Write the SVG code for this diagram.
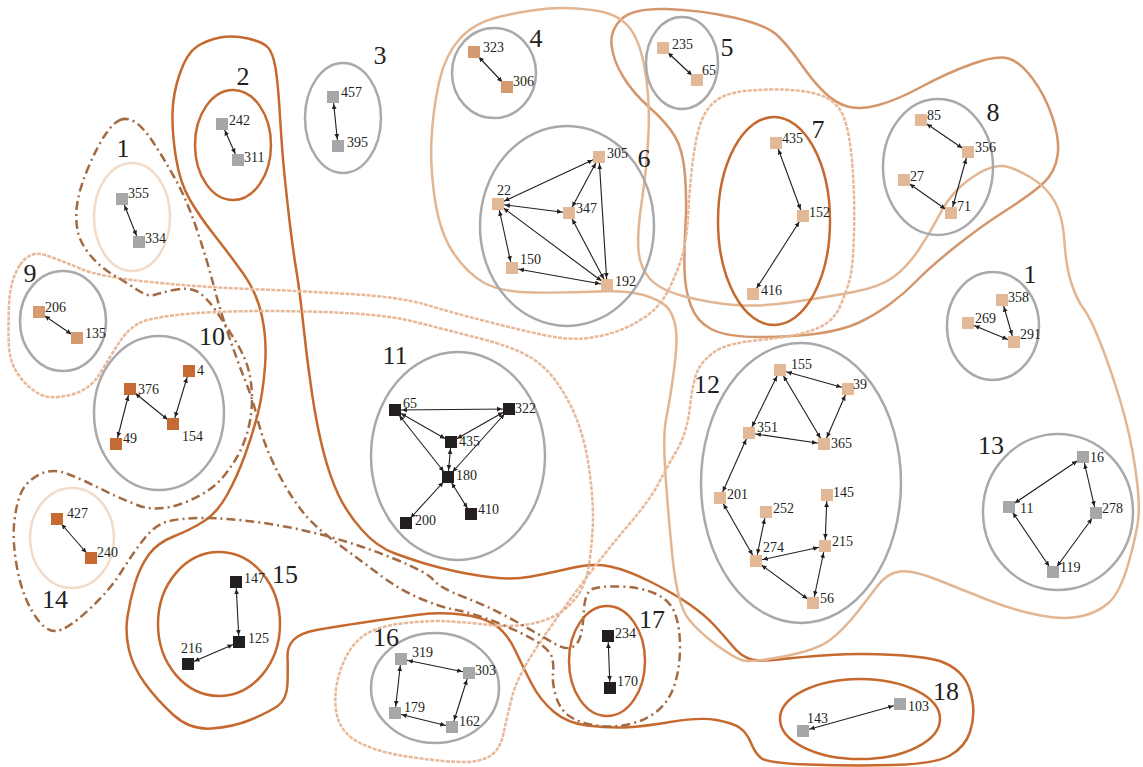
<svg xmlns="http://www.w3.org/2000/svg" width="1143" height="767" viewBox="0 0 1143 767">
<style>
.hull{fill:none;stroke-width:2.5;stroke-linejoin:round}
.hA{stroke:#c5692f}
.hB{stroke:#d4966b}
.hC{stroke:#e3b693}
.hD{stroke:#e8b999;stroke-dasharray:4 1.3}
.hE{stroke:#a36b43;stroke-dasharray:9 4 2 4}
.cg{fill:none;stroke:#a9a9ab;stroke-width:2.5}
.co{fill:none;stroke:#c5692f;stroke-width:2.5}
.cv{fill:none;stroke:#f1dccb;stroke-width:2.5}
.e{stroke:#231f20;stroke-width:1.1;fill:none;marker-start:url(#ar);marker-end:url(#ar)}
.g{fill:#a6a7a9}.p{fill:#e3b896}.m{fill:#d69a70}.o{fill:#c66a34}.k{fill:#231f20}
text{font-family:"Liberation Serif","DejaVu Serif",serif;fill:#231f20}
.lb{font-size:14px}
.cl{font-size:26px;text-anchor:middle}
</style>
<defs>
<marker id="ar" viewBox="0 0 10 6" markerWidth="10" markerHeight="6" markerUnits="userSpaceOnUse" refX="12" refY="3" orient="auto-start-reverse">
<path d="M0,0.6 L5,3 L0,5.4 z" fill="#231f20"/>
</marker>
</defs>
<rect width="1143" height="767" fill="#ffffff"/>
<g id="hulls">
<path class="hull hA" d="M 220,37.5 Q 233,35 248,38.5 Q 263,42 268,47.5 Q 273,53 275.5,68 Q 278,83 280,116.5 Q 282,150 284.5,175 Q 287,200 290,225 Q 293,250 296.5,271.5 Q 300,293 303.5,326.5 Q 307,360 312,393.5 Q 317,427 323.5,452 Q 330,477 338.5,495 Q 347,513 362,530 Q 377,547 395,553.5 Q 413,560 426.5,564 Q 440,568 456.5,571.5 Q 473,575 493,577.5 Q 513,580 531.5,576.5 Q 550,573 571.5,568 Q 593,563 610,566.5 Q 627,570 650,581.5 Q 673,593 689,604 Q 705,615 715,626 Q 725,637 732.5,646 Q 740,655 748.5,658.5 Q 757,662 778.5,659.5 Q 800,657 830,655 Q 860,653 895,655 Q 930,657 942.5,662 Q 955,667 962.5,676 Q 970,685 972.5,701 Q 975,717 970,732 Q 965,747 950,755.5 Q 935,764 892.5,765 Q 850,766 808.5,764.5 Q 767,763 761,758 Q 755,753 751,743 Q 747,733 740,728 Q 733,723 716.5,720 Q 700,717 670,722 Q 640,727 623.5,727.5 Q 607,728 587,725.5 Q 567,723 553.5,711.5 Q 540,700 531.5,683.5 Q 523,667 515,650 Q 507,633 495,625 Q 483,617 461.5,614.5 Q 440,612 420,614.5 Q 400,617 366.5,622 Q 333,627 316.5,630 Q 300,633 293.5,640 Q 287,647 287.5,657 Q 288,667 287.5,683.5 Q 287,700 277,706.5 Q 267,713 250,720 Q 233,727 211.5,728.5 Q 190,730 173.5,715 Q 157,700 145,683.5 Q 133,667 129,650 Q 125,633 127.5,616.5 Q 130,600 135,583.5 Q 140,567 148.5,555 Q 157,543 173.5,536.5 Q 190,530 203.5,521.5 Q 217,513 227,495 Q 237,477 245,455 Q 253,433 258,413 Q 263,393 265,366.5 Q 267,340 262,316.5 Q 257,293 243.5,274 Q 230,255 215,236 Q 200,217 190,200 Q 180,183 176,158 Q 172,133 172.5,113 Q 173,93 180,73 Q 187,53 197,46.5 Q 207,40 220,37.5 Z"/>
<path class="hull hB" d="M 621.5,19 Q 633,8 666.5,9 Q 700,10 733.5,17.5 Q 767,25 778.5,36.5 Q 790,48 801,64 Q 812,80 823.5,91.5 Q 835,103 847.5,106.5 Q 860,110 878.5,105 Q 897,100 922,86.5 Q 947,73 972,64 Q 997,55 1008.5,58.5 Q 1020,62 1032.5,78.5 Q 1045,95 1052.5,117.5 Q 1060,140 1057.5,156 Q 1055,172 1044,182.5 Q 1033,193 1006.5,210 Q 980,227 955,247 Q 930,267 917.5,280 Q 905,293 890,304 Q 875,315 859,322.5 Q 843,330 818,333.5 Q 793,337 760,337 Q 727,337 712,329.5 Q 697,322 691,306 Q 685,290 684.5,270 Q 684,250 685.5,225 Q 687,200 685,175 Q 683,150 675,136.5 Q 667,123 650,108 Q 633,93 623,76.5 Q 613,60 611.5,45 Q 610,30 621.5,19 Z"/>
<path class="hull hC" d="M 502.5,16 Q 530,10 548.5,8.5 Q 567,7 592,10 Q 617,13 628.5,26.5 Q 640,40 645,70 Q 650,100 648.5,133.5 Q 647,167 642,200 Q 637,233 638.5,250.5 Q 640,268 650,279 Q 660,290 685,296.5 Q 710,303 735,305 Q 760,307 793.5,302 Q 827,297 853.5,292 Q 880,287 893.5,277 Q 907,267 918.5,250 Q 930,233 938.5,216.5 Q 947,200 957,190 Q 967,180 980,172.5 Q 993,165 1003,166 Q 1013,167 1030,177 Q 1047,187 1055,202 Q 1063,217 1064.5,242 Q 1066,267 1071.5,283.5 Q 1077,300 1083.5,308.5 Q 1090,317 1100,342 Q 1110,367 1120,400 Q 1130,433 1135,466.5 Q 1140,500 1138.5,516.5 Q 1137,533 1128.5,563 Q 1120,593 1108.5,603 Q 1097,613 1080,616.5 Q 1063,620 1038,615 Q 1013,610 988,600 Q 963,590 938,580 Q 913,570 900,571.5 Q 887,573 877,586.5 Q 867,600 855,615 Q 843,630 830,640 Q 817,650 783.5,656.5 Q 750,663 741.5,660 Q 733,657 716.5,645 Q 700,633 688.5,619 Q 677,605 672,552.5 Q 667,500 665,466.5 Q 663,433 666.5,416.5 Q 670,400 674,370 Q 678,340 675.5,326.5 Q 673,313 666.5,306.5 Q 660,300 643.5,295 Q 627,290 597,291.5 Q 567,293 533.5,292.5 Q 500,292 483.5,282.5 Q 467,273 453.5,253 Q 440,233 435,200 Q 430,167 431.5,138.5 Q 433,110 439,82.5 Q 445,55 460,38.5 Q 475,22 502.5,16 Z"/>
<path class="hull hD" d="M 20,265 Q 30,250 45,255 Q 60,260 80,268.5 Q 100,277 150,282 Q 200,287 250,289 Q 300,291 350,294 Q 400,297 425,304.5 Q 450,312 485,321 Q 520,330 543.5,335 Q 567,340 583.5,338.5 Q 600,337 615,332 Q 630,327 645,317 Q 660,307 668.5,290 Q 677,273 682,256.5 Q 687,240 688.5,210 Q 690,180 694,152.5 Q 698,125 705.5,112.5 Q 713,100 726.5,95 Q 740,90 770,89.5 Q 800,89 818.5,94.5 Q 837,100 843.5,116.5 Q 850,133 852.5,166.5 Q 855,200 854,233.5 Q 853,267 850,278.5 Q 847,290 840,306.5 Q 833,323 813,330 Q 793,337 760,340 Q 727,343 715,351.5 Q 703,360 698,370 Q 693,380 690,406.5 Q 687,433 677,450 Q 667,467 658.5,483.5 Q 650,500 628.5,525 Q 607,550 582,583.5 Q 557,617 537,647 Q 517,677 512,697 Q 507,717 503.5,733.5 Q 500,750 490,756 Q 480,762 463.5,762 Q 447,762 413.5,757.5 Q 380,753 360,743 Q 340,733 336.5,713 Q 333,693 340,671.5 Q 347,650 360,638.5 Q 373,627 401.5,623.5 Q 430,620 451.5,621.5 Q 473,623 490,625 Q 507,627 523.5,625 Q 540,623 553.5,616.5 Q 567,610 577,596.5 Q 587,583 590,558 Q 593,533 593,516.5 Q 593,500 590,475 Q 587,450 580,428.5 Q 573,407 560,387 Q 547,367 530,357 Q 513,347 480,338.5 Q 447,330 413.5,321.5 Q 380,313 306.5,311.5 Q 233,310 191.5,313.5 Q 150,317 138.5,323.5 Q 127,330 118.5,343.5 Q 110,357 100,373.5 Q 90,390 70,395 Q 50,400 38.5,393.5 Q 27,387 18.5,375 Q 10,363 9,346.5 Q 8,330 9,305 Q 10,280 20,265 Z"/>
<path class="hull hE" d="M 120,120 Q 127,117 135,122 Q 143,127 153,142 Q 163,157 175,178.5 Q 187,200 197,230 Q 207,260 213.5,285 Q 220,310 228.5,335 Q 237,360 245,380 Q 253,400 256.5,415 Q 260,430 266,446 Q 272,462 282.5,481 Q 293,500 304,513.5 Q 315,527 337.5,543.5 Q 360,560 380,575 Q 400,590 420,598.5 Q 440,607 456.5,610 Q 473,613 498,623 Q 523,633 536.5,641.5 Q 550,650 552,657.5 Q 554,665 553,674 Q 552,683 556,696.5 Q 560,710 570,716.5 Q 580,723 596.5,725.5 Q 613,728 630,724 Q 647,720 658.5,710 Q 670,700 675,683.5 Q 680,667 680,647 Q 680,627 675,613.5 Q 670,600 655,593.5 Q 640,587 620,586.5 Q 600,586 592.5,589 Q 585,592 584,609.5 Q 583,627 580.5,636 Q 578,645 571.5,647.5 Q 565,650 552.5,642.5 Q 540,635 515,621 Q 490,607 465,597.5 Q 440,588 433.5,580 Q 427,572 393.5,558.5 Q 360,545 326.5,536 Q 293,527 260,522.5 Q 227,518 203.5,518 Q 180,518 167.5,521.5 Q 155,525 144,539 Q 133,553 121.5,571.5 Q 110,590 88.5,610 Q 67,630 56,631 Q 45,632 33.5,613.5 Q 22,595 17,567.5 Q 12,540 14.5,520 Q 17,500 22.5,490 Q 28,480 40.5,474 Q 53,468 68,474 Q 83,480 100,488.5 Q 117,497 137,505 Q 157,513 183.5,503 Q 210,493 223.5,476.5 Q 237,460 243.5,443.5 Q 250,427 251.5,410 Q 253,393 250,376.5 Q 247,360 237,343.5 Q 227,327 216,311 Q 205,295 196,291 Q 187,287 173.5,290 Q 160,293 154,295 Q 148,297 137.5,290 Q 127,283 113.5,275 Q 100,267 90,255 Q 80,243 77.5,230 Q 75,217 77.5,202 Q 80,187 88.5,167 Q 97,147 105,135 Q 113,123 120,120 Z"/>
</g>
<g id="clusters">
<g id="cluster-1a"><ellipse class="cv" cx="132" cy="217" rx="38" ry="54"/><text class="cl" x="123" y="157">1</text></g>
<g id="cluster-2"><ellipse class="co" cx="233" cy="145" rx="38" ry="55"/><text class="cl" x="243" y="85">2</text></g>
<g id="cluster-3"><ellipse class="cg" cx="343" cy="118" rx="38" ry="55"/><text class="cl" x="380" y="64">3</text></g>
<g id="cluster-4"><ellipse class="cg" cx="494" cy="73" rx="42" ry="45"/><text class="cl" x="536" y="47">4</text></g>
<g id="cluster-5"><ellipse class="cg" cx="682" cy="63" rx="36" ry="46"/><text class="cl" x="727" y="56">5</text></g>
<g id="cluster-6"><ellipse class="cg" cx="567" cy="226" rx="87" ry="100"/><text class="cl" x="644" y="167">6</text></g>
<g id="cluster-7"><ellipse class="co" cx="774" cy="221" rx="56" ry="104"/><text class="cl" x="818" y="138">7</text></g>
<g id="cluster-8"><ellipse class="cg" cx="938" cy="167" rx="55" ry="68"/><text class="cl" x="993" y="121">8</text></g>
<g id="cluster-1b"><ellipse class="cg" cx="993" cy="326" rx="46" ry="54"/><text class="cl" x="1030" y="283">1</text></g>
<g id="cluster-9"><ellipse class="cg" cx="63" cy="321" rx="43" ry="50"/><text class="cl" x="30" y="282">9</text></g>
<g id="cluster-10"><ellipse class="cg" cx="159" cy="413" rx="65" ry="77"/><text class="cl" x="212" y="345">10</text></g>
<g id="cluster-11"><ellipse class="cg" cx="458" cy="456" rx="87" ry="104"/><text class="cl" x="395" y="364">11</text></g>
<g id="cluster-12"><ellipse class="cg" cx="801" cy="483" rx="100" ry="140"/><text class="cl" x="707" y="393">12</text></g>
<g id="cluster-13"><ellipse class="cg" cx="1058" cy="512" rx="75" ry="78"/><text class="cl" x="991" y="454">13</text></g>
<g id="cluster-14"><ellipse class="cv" cx="72" cy="538" rx="42" ry="50"/><text class="cl" x="55" y="608">14</text></g>
<g id="cluster-15"><ellipse class="co" cx="219" cy="624" rx="61" ry="72"/><text class="cl" x="285" y="583">15</text></g>
<g id="cluster-16"><ellipse class="cg" cx="435" cy="688" rx="64" ry="55"/><text class="cl" x="386" y="646">16</text></g>
<g id="cluster-17"><ellipse class="co" cx="607" cy="661" rx="38" ry="55"/><text class="cl" x="652" y="628">17</text></g>
<g id="cluster-18"><ellipse class="co" cx="860" cy="719" rx="80" ry="40"/><text class="cl" x="946" y="700">18</text></g>
</g>
<g id="connectors">
<line class="e" x1="122" y1="199" x2="139" y2="242"/>
<line class="e" x1="222" y1="124" x2="238" y2="160"/>
<line class="e" x1="333" y1="97" x2="338" y2="146"/>
<line class="e" x1="474" y1="52" x2="507" y2="87"/>
<line class="e" x1="663" y1="48" x2="697" y2="80"/>
<line class="e" x1="498" y1="204" x2="599" y2="157"/>
<line class="e" x1="498" y1="204" x2="569" y2="213"/>
<line class="e" x1="498" y1="204" x2="512" y2="268"/>
<line class="e" x1="498" y1="204" x2="607" y2="285"/>
<line class="e" x1="569" y1="213" x2="599" y2="157"/>
<line class="e" x1="569" y1="213" x2="607" y2="285"/>
<line class="e" x1="599" y1="157" x2="607" y2="285"/>
<line class="e" x1="512" y1="268" x2="607" y2="285"/>
<line class="e" x1="776" y1="143" x2="803" y2="216"/>
<line class="e" x1="803" y1="216" x2="753" y2="294"/>
<line class="e" x1="921" y1="120" x2="968" y2="152"/>
<line class="e" x1="968" y1="152" x2="951" y2="213"/>
<line class="e" x1="904" y1="180" x2="951" y2="213"/>
<line class="e" x1="1002" y1="300" x2="1014" y2="342"/>
<line class="e" x1="968" y1="323" x2="1014" y2="342"/>
<line class="e" x1="39" y1="312" x2="77" y2="338"/>
<line class="e" x1="130" y1="389" x2="116" y2="444"/>
<line class="e" x1="130" y1="389" x2="173" y2="424"/>
<line class="e" x1="189" y1="371" x2="173" y2="424"/>
<line class="e" x1="395" y1="410" x2="509" y2="409"/>
<line class="e" x1="395" y1="410" x2="451" y2="442"/>
<line class="e" x1="395" y1="410" x2="448" y2="477"/>
<line class="e" x1="509" y1="409" x2="451" y2="442"/>
<line class="e" x1="509" y1="409" x2="448" y2="477"/>
<line class="e" x1="451" y1="442" x2="448" y2="477"/>
<line class="e" x1="448" y1="477" x2="406" y2="523"/>
<line class="e" x1="448" y1="477" x2="471" y2="514"/>
<line class="e" x1="780" y1="370" x2="848" y2="389"/>
<line class="e" x1="780" y1="370" x2="749" y2="433"/>
<line class="e" x1="780" y1="370" x2="824" y2="444"/>
<line class="e" x1="848" y1="389" x2="824" y2="444"/>
<line class="e" x1="749" y1="433" x2="824" y2="444"/>
<line class="e" x1="749" y1="433" x2="720" y2="498"/>
<line class="e" x1="720" y1="498" x2="756" y2="561"/>
<line class="e" x1="766" y1="512" x2="756" y2="561"/>
<line class="e" x1="756" y1="561" x2="825" y2="546"/>
<line class="e" x1="756" y1="561" x2="813" y2="603"/>
<line class="e" x1="827" y1="495" x2="825" y2="546"/>
<line class="e" x1="825" y1="546" x2="813" y2="603"/>
<line class="e" x1="1083" y1="457" x2="1009" y2="507"/>
<line class="e" x1="1083" y1="457" x2="1096" y2="513"/>
<line class="e" x1="1009" y1="507" x2="1053" y2="572"/>
<line class="e" x1="1096" y1="513" x2="1053" y2="572"/>
<line class="e" x1="57" y1="519" x2="91" y2="558"/>
<line class="e" x1="236" y1="582" x2="239" y2="642"/>
<line class="e" x1="239" y1="642" x2="188" y2="664"/>
<line class="e" x1="401" y1="659" x2="469" y2="673"/>
<line class="e" x1="401" y1="659" x2="395" y2="713"/>
<line class="e" x1="395" y1="713" x2="452" y2="727"/>
<line class="e" x1="469" y1="673" x2="452" y2="727"/>
<line class="e" x1="608" y1="636" x2="610" y2="688"/>
<line class="e" x1="803" y1="731" x2="900" y2="704"/>
</g>
<g id="nodes">
<g id="n355"><rect class="g" x="116" y="193" width="12" height="12"/><text class="lb" x="128" y="198">355</text></g>
<g id="n334"><rect class="g" x="133" y="236" width="12" height="12"/><text class="lb" x="145" y="243">334</text></g>
<g id="n242"><rect class="g" x="216" y="118" width="12" height="12"/><text class="lb" x="229" y="125">242</text></g>
<g id="n311"><rect class="g" x="232" y="154" width="12" height="12"/><text class="lb" x="244" y="162">311</text></g>
<g id="n457"><rect class="g" x="327" y="91" width="12" height="12"/><text class="lb" x="341" y="97">457</text></g>
<g id="n395"><rect class="g" x="332" y="140" width="12" height="12"/><text class="lb" x="347" y="147">395</text></g>
<g id="n323"><rect class="m" x="468" y="46" width="12" height="12"/><text class="lb" x="483" y="52">323</text></g>
<g id="n306"><rect class="m" x="501" y="81" width="12" height="12"/><text class="lb" x="513" y="86">306</text></g>
<g id="n235"><rect class="p" x="657" y="42" width="12" height="12"/><text class="lb" x="672" y="49">235</text></g>
<g id="n65a"><rect class="p" x="691" y="74" width="12" height="12"/><text class="lb" x="702" y="75">65</text></g>
<g id="n305"><rect class="p" x="593" y="151" width="12" height="12"/><text class="lb" x="607" y="158">305</text></g>
<g id="n22"><rect class="p" x="492" y="198" width="12" height="12"/><text class="lb" x="497" y="195">22</text></g>
<g id="n347"><rect class="p" x="563" y="207" width="12" height="12"/><text class="lb" x="576" y="213">347</text></g>
<g id="n150"><rect class="p" x="506" y="262" width="12" height="12"/><text class="lb" x="520" y="264">150</text></g>
<g id="n192"><rect class="p" x="601" y="279" width="12" height="12"/><text class="lb" x="615" y="286">192</text></g>
<g id="n435a"><rect class="p" x="770" y="137" width="12" height="12"/><text class="lb" x="782" y="143">435</text></g>
<g id="n152"><rect class="p" x="797" y="210" width="12" height="12"/><text class="lb" x="809" y="217">152</text></g>
<g id="n416"><rect class="p" x="747" y="288" width="12" height="12"/><text class="lb" x="761" y="295">416</text></g>
<g id="n85"><rect class="p" x="915" y="114" width="12" height="12"/><text class="lb" x="927" y="120">85</text></g>
<g id="n356"><rect class="p" x="962" y="146" width="12" height="12"/><text class="lb" x="975" y="152">356</text></g>
<g id="n27"><rect class="p" x="898" y="174" width="12" height="12"/><text class="lb" x="910" y="181">27</text></g>
<g id="n71"><rect class="p" x="945" y="207" width="12" height="12"/><text class="lb" x="957" y="211">71</text></g>
<g id="n358"><rect class="p" x="996" y="294" width="12" height="12"/><text class="lb" x="1008" y="302">358</text></g>
<g id="n269"><rect class="p" x="962" y="317" width="12" height="12"/><text class="lb" x="975" y="323">269</text></g>
<g id="n291"><rect class="p" x="1008" y="336" width="12" height="12"/><text class="lb" x="1020" y="339">291</text></g>
<g id="n206"><rect class="m" x="33" y="306" width="12" height="12"/><text class="lb" x="45" y="312">206</text></g>
<g id="n135"><rect class="m" x="71" y="332" width="12" height="12"/><text class="lb" x="85" y="338">135</text></g>
<g id="n4"><rect class="o" x="183" y="365" width="12" height="12"/><text class="lb" x="197" y="375">4</text></g>
<g id="n376"><rect class="o" x="124" y="383" width="12" height="12"/><text class="lb" x="138" y="394">376</text></g>
<g id="n49"><rect class="o" x="110" y="438" width="12" height="12"/><text class="lb" x="123" y="443">49</text></g>
<g id="n154"><rect class="o" x="167" y="418" width="12" height="12"/><text class="lb" x="182" y="441">154</text></g>
<g id="n65b"><rect class="k" x="389" y="404" width="12" height="12"/><text class="lb" x="403" y="408">65</text></g>
<g id="n322"><rect class="k" x="503" y="403" width="12" height="12"/><text class="lb" x="515" y="413">322</text></g>
<g id="n435b"><rect class="k" x="445" y="436" width="12" height="12"/><text class="lb" x="459" y="446">435</text></g>
<g id="n180"><rect class="k" x="442" y="471" width="12" height="12"/><text class="lb" x="456" y="480">180</text></g>
<g id="n200"><rect class="k" x="400" y="517" width="12" height="12"/><text class="lb" x="415" y="525">200</text></g>
<g id="n410"><rect class="k" x="465" y="508" width="12" height="12"/><text class="lb" x="478" y="514">410</text></g>
<g id="n155"><rect class="p" x="774" y="364" width="12" height="12"/><text class="lb" x="791" y="369">155</text></g>
<g id="n39"><rect class="p" x="842" y="383" width="12" height="12"/><text class="lb" x="853" y="389">39</text></g>
<g id="n351"><rect class="p" x="743" y="427" width="12" height="12"/><text class="lb" x="757" y="432">351</text></g>
<g id="n365"><rect class="p" x="818" y="438" width="12" height="12"/><text class="lb" x="831" y="448">365</text></g>
<g id="n201"><rect class="p" x="714" y="492" width="12" height="12"/><text class="lb" x="727" y="499">201</text></g>
<g id="n252"><rect class="p" x="760" y="506" width="12" height="12"/><text class="lb" x="773" y="513">252</text></g>
<g id="n145"><rect class="p" x="821" y="489" width="12" height="12"/><text class="lb" x="833" y="497">145</text></g>
<g id="n274"><rect class="p" x="750" y="555" width="12" height="12"/><text class="lb" x="763" y="552">274</text></g>
<g id="n215"><rect class="p" x="819" y="540" width="12" height="12"/><text class="lb" x="832" y="546">215</text></g>
<g id="n56"><rect class="p" x="807" y="597" width="12" height="12"/><text class="lb" x="820" y="603">56</text></g>
<g id="n16"><rect class="g" x="1077" y="451" width="12" height="12"/><text class="lb" x="1090" y="462">16</text></g>
<g id="n11"><rect class="g" x="1003" y="501" width="12" height="12"/><text class="lb" x="1020" y="513">11</text></g>
<g id="n278"><rect class="g" x="1090" y="507" width="12" height="12"/><text class="lb" x="1102" y="513">278</text></g>
<g id="n119"><rect class="g" x="1047" y="566" width="12" height="12"/><text class="lb" x="1060" y="572">119</text></g>
<g id="n427"><rect class="o" x="51" y="513" width="12" height="12"/><text class="lb" x="67" y="518">427</text></g>
<g id="n240"><rect class="o" x="85" y="552" width="12" height="12"/><text class="lb" x="97" y="557">240</text></g>
<g id="n147"><rect class="k" x="230" y="576" width="12" height="12"/><text class="lb" x="244" y="583">147</text></g>
<g id="n125"><rect class="k" x="233" y="636" width="12" height="12"/><text class="lb" x="248" y="643">125</text></g>
<g id="n216"><rect class="k" x="182" y="658" width="12" height="12"/><text class="lb" x="181" y="653">216</text></g>
<g id="n319"><rect class="g" x="395" y="653" width="12" height="12"/><text class="lb" x="412" y="657">319</text></g>
<g id="n303"><rect class="g" x="463" y="667" width="12" height="12"/><text class="lb" x="475" y="675">303</text></g>
<g id="n179"><rect class="g" x="389" y="707" width="12" height="12"/><text class="lb" x="404" y="712">179</text></g>
<g id="n162"><rect class="g" x="446" y="721" width="12" height="12"/><text class="lb" x="459" y="726">162</text></g>
<g id="n234"><rect class="k" x="602" y="630" width="12" height="12"/><text class="lb" x="615" y="638">234</text></g>
<g id="n170"><rect class="k" x="604" y="682" width="12" height="12"/><text class="lb" x="617" y="686">170</text></g>
<g id="n143"><rect class="g" x="797" y="725" width="12" height="12"/><text class="lb" x="807" y="723">143</text></g>
<g id="n103"><rect class="g" x="894" y="698" width="12" height="12"/><text class="lb" x="908" y="711">103</text></g>
</g>
</svg>
